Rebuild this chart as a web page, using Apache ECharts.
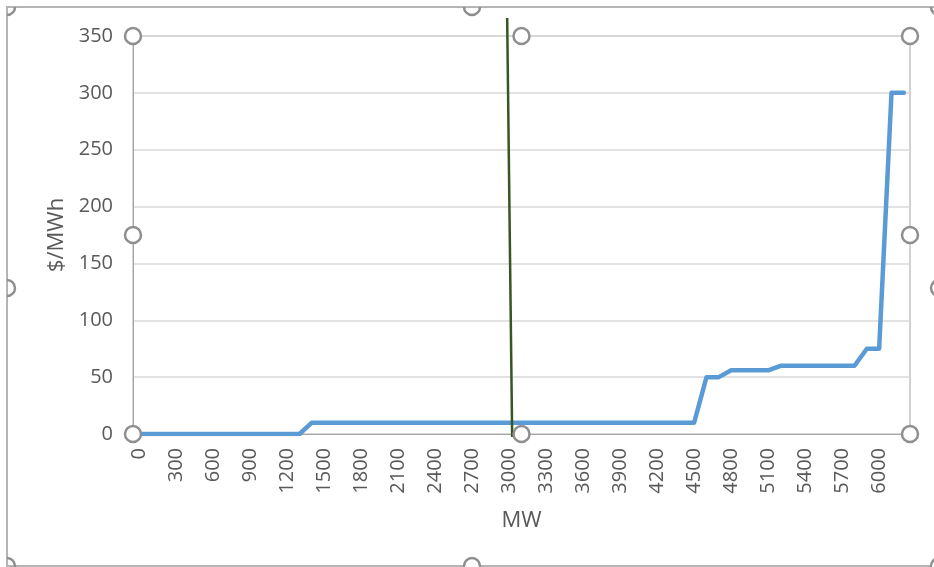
<!DOCTYPE html>
<html>
<head>
<meta charset="utf-8">
<script src="https://cdn.jsdelivr.net/npm/echarts@6/dist/echarts.min.js"></script>
<style>
html,body{margin:0;padding:0;background:#fff;}
#chart{width:934px;height:567px;}
</style>
</head>
<body>
<div id="chart"></div>
<script>
// ---- data ----
const mwCategories = ['0','100','200','300','400','500','600','700','800','900',
  '1000','1100','1200','1300','1400','1500','1600','1700','1800','1900',
  '2000','2100','2200','2300','2400','2500','2600','2700','2800','2900',
  '3000','3100','3200','3300','3400','3500','3600','3700','3800','3900',
  '4000','4100','4200','4300','4400','4500','4600','4700','4800','4900',
  '5000','5100','5200','5300','5400','5500','5600','5700','5800','5900',
  '6000','6100','6200'];
const priceValues = [0,0,0,0,0,0,0,0,0,0,
  0,0,0,0,10,10,10,10,10,10,
  10,10,10,10,10,10,10,10,10,10,
  10,10,10,10,10,10,10,10,10,10,
  10,10,10,10,10,10,50,50,56,56,
  56,56,60,60,60,60,60,60,60,75,
  75,300,300];
const yTicks = [0, 50, 100, 150, 200, 250, 300, 350];
const demandMW = '3000';
const xTitle = 'MW';
const yTitle = '$/MWh';

(function () {
const FONT = "'Open Sans', 'Noto Sans', sans-serif";
const chart = echarts.init(document.getElementById('chart'));
const gridL = 133, gridT = 36, gridR = 910, gridB = 434;

chart.setOption({
  animation: false,
  backgroundColor: '#ffffff',
  grid: {
    left: gridL, top: gridT, right: 934 - gridR, bottom: 567 - gridB,
    show: true, borderColor: '#a6a6a6', borderWidth: 1
  },
  xAxis: {
    type: 'category',
    data: mwCategories,
    boundaryGap: true,
    name: xTitle,
    nameLocation: 'middle',
    nameGap: 76,
    nameTextStyle: { fontFamily: FONT, fontSize: 22, color: '#595959' },
    axisLine: { lineStyle: { color: '#a6a6a6', width: 1 } },
    axisTick: { show: false },
    axisLabel: {
      interval: 2, rotate: 90, margin: 14,
      fontFamily: FONT, fontSize: 20, color: '#595959'
    },
    splitLine: { show: false }
  },
  yAxis: {
    type: 'value',
    min: yTicks[0], max: yTicks[yTicks.length - 1], interval: 50,
    name: yTitle,
    nameLocation: 'middle',
    nameRotate: 90,
    nameGap: 64,
    nameTextStyle: { fontFamily: FONT, fontSize: 22, color: '#595959' },
    axisLine: { show: true, lineStyle: { color: '#a6a6a6' } },
    axisTick: { show: false },
    axisLabel: { margin: 20, fontFamily: FONT, fontSize: 20, color: '#595959' },
    splitLine: { lineStyle: { color: '#d9d9d9', width: 1.5 } }
  },
  series: [{
    type: 'line',
    data: priceValues,
    showSymbol: false,
    symbol: 'none',
    lineStyle: { color: '#5b9bd5', width: 4.5, cap: 'round', join: 'round' },
    z: 3
  }]
});

// ---- annotations: demand line + selection handles ----
const pTop = chart.convertToPixel({ gridIndex: 0 }, [mwCategories.indexOf(demandMW), 350]);
const pBot = chart.convertToPixel({ gridIndex: 0 }, [mwCategories.indexOf(demandMW), 0]);
const dx = pTop[0];
const handleStyle = { fill: '#ffffff', stroke: '#8f8f8f', lineWidth: 2.5 };
function circ(x, y) {
  return { type: 'circle', shape: { cx: x, cy: y, r: 8 }, style: handleStyle, z: 100 };
}
function arc(x, y, a0, a1) {
  return { type: 'arc', shape: { cx: x, cy: y, r: 8, startAngle: a0, endAngle: a1, clockwise: true },
    style: { stroke: '#8f8f8f', lineWidth: 2.5, fill: null }, z: 100 };
}
const midX = (gridL + gridR) / 2, midY = (gridT + gridB) / 2;
const PI = Math.PI;
const graphics = [
  { type: 'polyline', shape: { points: [[7, 567], [7, 7], [934, 7]] },
    style: { stroke: '#b4b4b4', lineWidth: 2, fill: null }, z: 90 },
  { type: 'line', shape: { x1: 7, y1: 566, x2: 934, y2: 566 },
    style: { stroke: '#b4b4b4', lineWidth: 2 }, z: 90 },
  { type: 'line', shape: { x1: dx - 2, y1: pTop[1] - 18, x2: dx + 3, y2: pBot[1] + 3 },
    style: { stroke: '#375623', lineWidth: 2.5 }, z: 50 },
  circ(gridL, gridT), circ(midX, gridT), circ(gridR, gridT),
  circ(gridL, midY), circ(gridR, midY),
  circ(gridL, gridB), circ(midX, gridB), circ(gridR, gridB),
  arc(7, 7, 0, PI / 2), arc(472, 7, 0, PI), arc(939, 7, 0, PI),
  arc(7, 288, -PI / 2, PI / 2), circ(939, 288),
  arc(7, 566, -PI / 2, PI / 2), circ(472, 566), circ(939, 566)
];
chart.setOption({ graphic: graphics });
})();
</script>
</body>
</html>
